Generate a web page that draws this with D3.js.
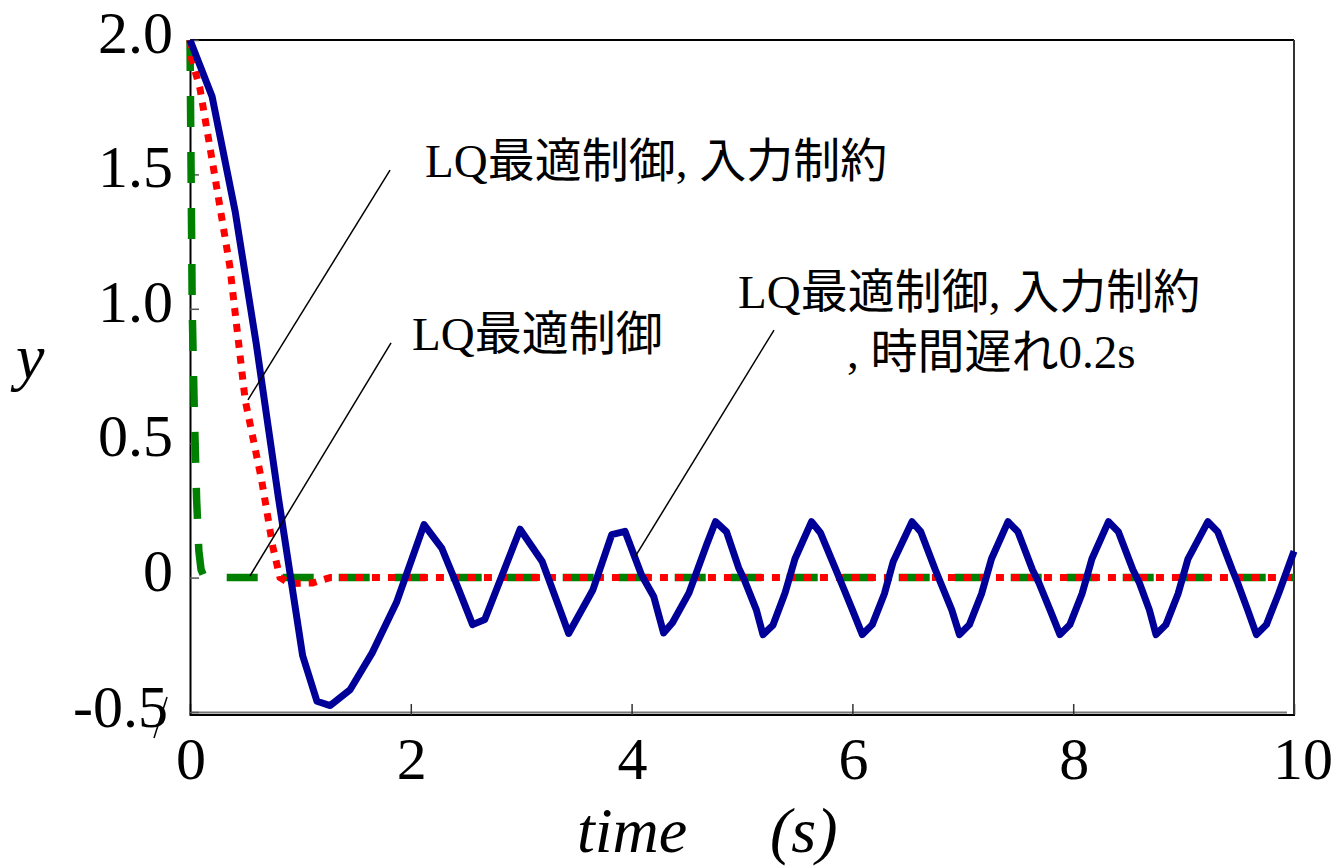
<!DOCTYPE html>
<html lang="ja">
<head>
<meta charset="UTF-8">
<title>LQ control response</title>
<script src="https://d3js.org/d3.v7.min.js"></script>
<style>
    body { margin: 0; background: #fff; }
    svg { display: block; }
    .tick-label { font-family: "Liberation Serif", "Times New Roman", serif; font-size: 60px; fill: #000; }
    .axis-title { font-family: "Liberation Serif", "Times New Roman", serif; font-size: 64px; font-style: italic; fill: #000; }
    .note { font-family: "Liberation Serif", "Noto Sans CJK JP", serif; font-size: 47px; fill: #000; }
</style>
</head>
<body>
<svg id="chart" width="1342" height="866"></svg>
<script>
// time (s) / y values
const delayT = [0, 0.2, 0.41, 0.6, 0.8, 1.02, 1.15, 1.27, 1.45, 1.65, 1.87, 2.12, 2.28, 2.42, 2.56, 2.67,
    2.99, 3.19, 3.34, 3.43, 3.65, 3.82, 3.94, 4.09, 4.2, 4.29, 4.37, 4.52, 4.68, 4.76, 4.86, 4.97, 5.02,
    5.13, 5.19, 5.28, 5.39, 5.48, 5.63, 5.71, 5.85, 5.93, 6.0, 6.09, 6.18, 6.29, 6.37, 6.54, 6.62, 6.75,
    6.8, 6.9, 6.97, 7.06, 7.17, 7.26, 7.41, 7.5, 7.63, 7.69, 7.79, 7.88, 7.97, 8.08, 8.17, 8.32, 8.41,
    8.54, 8.6, 8.69, 8.75, 8.84, 8.95, 9.04, 9.22, 9.31, 9.44, 9.49, 9.58, 9.66, 9.75, 9.86, 10.0];
const delayY = [2.0, 1.79, 1.36, 0.87, 0.30, -0.29, -0.46, -0.476, -0.417, -0.28, -0.093, 0.197, 0.11, -0.03, -0.175, -0.156,
    0.18, 0.06, -0.107, -0.208, -0.045, 0.16, 0.172, 0.01, -0.07, -0.206, -0.168, -0.057, 0.123, 0.208, 0.17, 0.036, -0.007,
    -0.12, -0.212, -0.177, -0.057, 0.07, 0.208, 0.167, 0.03, -0.05, -0.12, -0.212, -0.175, -0.06, 0.06, 0.208, 0.17, 0.03,
    -0.02, -0.12, -0.212, -0.175, -0.06, 0.07, 0.208, 0.17, 0.03, -0.02, -0.12, -0.212, -0.175, -0.06, 0.07, 0.208, 0.17,
    0.03, -0.02, -0.12, -0.212, -0.175, -0.06, 0.07, 0.208, 0.17, 0.03, -0.02, -0.12, -0.212, -0.175, -0.06, 0.098];

const limitT = [0, 0.015, 0.09, 0.21, 0.36, 0.5, 0.65, 0.75, 0.815, 0.905, 1.11, 1.27, 10];
const limitY = [2.0, 1.93, 1.82, 1.53, 1.16, 0.66, 0.36, 0.115, 0.0, -0.022, -0.02, 0.0, 0.0];

const lqT = [0, 0.02, 0.04, 0.06, 0.08, 0.1, 0.12, 0.15, 10];
const lqY = [2.0, 1.0, 0.6, 0.29, 0.1, 0.03, 0.01, 0.0, 0.0];

const xTicks = [0, 2, 4, 6, 8, 10];
const yTicks = [2.0, 1.5, 1.0, 0.5, 0, -0.5];
const yTickLabels = ["2.0", "1.5", "1.0", "0.5", "0", "-0.5"];

const svg = d3.select("#chart");
const plotL = 190, plotR = 1294, plotT = 40, plotB = 712;

const x = d3.scaleLinear().domain([0, 10]).range([plotL, plotR]);
const y = d3.scaleLinear().domain([-0.5, 2.0]).range([plotB, plotT]);

// plot frame
svg.append("line").attr("x1", plotL).attr("x2", plotR).attr("y1", plotT).attr("y2", plotT)
    .attr("stroke", "#000").attr("stroke-width", 2);
svg.append("line").attr("x1", plotR).attr("x2", plotR).attr("y1", plotT).attr("y2", plotB + 3)
    .attr("stroke", "#333").attr("stroke-width", 2);
svg.append("line").attr("x1", plotL).attr("x2", plotR + 1).attr("y1", plotB + 3).attr("y2", plotB + 3)
    .attr("stroke", "#000").attr("stroke-width", 2);

// x axis (at y = -0.5)
const xAxis = svg.append("g").attr("transform", `translate(0,${plotB})`)
    .call(d3.axisBottom(x).tickValues(xTicks).tickSizeInner(-8).tickSizeOuter(0).tickFormat(""));
xAxis.select(".domain").attr("stroke", "#777").attr("stroke-width", 2).attr("d", `M${plotL},0.5H${plotR - 7}`);
xAxis.selectAll(".tick line").attr("stroke", "#333").attr("stroke-width", 1.5).attr("y2", 3).attr("y1", -8);

svg.selectAll(".xlab").data(xTicks).enter().append("text")
    .attr("class", "tick-label")
    .attr("x", d => x(d) + (d === 10 ? 9 : 1))
    .attr("y", 779)
    .attr("text-anchor", "middle")
    .text(d => d);

// y axis
const yAxis = svg.append("g").attr("transform", `translate(${plotL},0)`)
    .call(d3.axisLeft(y).tickValues(yTicks).tickSizeInner(-9).tickSizeOuter(0).tickFormat(""));
yAxis.select(".domain").attr("stroke", "#000").attr("stroke-width", 2).attr("d", `M0.5,${plotT}V${plotB + 4}`);
yAxis.selectAll(".tick line").attr("stroke", "#555").attr("stroke-width", 1.5);

svg.selectAll(".ylab").data(yTicks).enter().append("text")
    .attr("class", "tick-label")
    .attr("x", (d, i) => i === 5 ? 168 : 173)
    .attr("y", d => y(d) + (d === -0.5 ? 15 : 13))
    .attr("text-anchor", "end")
    .text((d, i) => yTickLabels[i]);

// stray slash next to -0.5
svg.append("line")
    .attr("x1", x(-0.208)).attr("y1", y(-0.444)).attr("x2", x(-0.326)).attr("y2", y(-0.597))
    .attr("stroke", "#000").attr("stroke-width", 1.5);

// axis titles
svg.append("text").attr("class", "axis-title").attr("x", 16).attr("y", 378).text("y");
svg.append("text").attr("class", "axis-title").attr("x", 577).attr("y", 852).text("time");
svg.append("text").attr("class", "axis-title").attr("x", 770).attr("y", 852).text("(s)");

// curves
const line = d3.line().x(d => x(d[0])).y(d => y(d[1]));
const zip = (ts, ys) => ts.map((t, i) => [t, ys[i]]);

svg.append("path").datum(zip(lqT, lqY))
    .attr("d", line).attr("fill", "none")
    .attr("stroke", "#008000").attr("stroke-width", 7.5)
    .attr("stroke-dasharray", "31,25");

svg.append("path").datum(zip(limitT, limitY))
    .attr("d", line).attr("fill", "none")
    .attr("stroke", "#ff0000").attr("stroke-width", 7)
    .attr("stroke-dasharray", "8,8");

svg.append("path").datum(zip(delayT, delayY))
    .attr("d", line).attr("fill", "none")
    .attr("stroke", "#000099").attr("stroke-width", 7)
    .attr("stroke-linejoin", "round");

// annotations with leader lines
const leaders = [
    [[1.812, 1.516], [0.525, 0.661]],
    [[1.821, 0.873], [0.543, 0.006]],
    [[5.29, 0.921], [4.031, 0.077]]
];
svg.selectAll(".leader").data(leaders).enter().append("line")
    .attr("x1", d => x(d[0][0])).attr("y1", d => y(d[0][1]))
    .attr("x2", d => x(d[1][0])).attr("y2", d => y(d[1][1]))
    .attr("stroke", "#000").attr("stroke-width", 1.5);

svg.append("text").attr("class", "note").attr("x", 425).attr("y", 177).text("LQ最適制御, 入力制約");
svg.append("text").attr("class", "note").attr("x", 412).attr("y", 350).text("LQ最適制御");
svg.append("text").attr("class", "note").attr("x", 738).attr("y", 308).text("LQ最適制御, 入力制約");
svg.append("text").attr("class", "note").attr("x", 847).attr("y", 368).text(", 時間遅れ0.2s");
</script>
</body>
</html>
